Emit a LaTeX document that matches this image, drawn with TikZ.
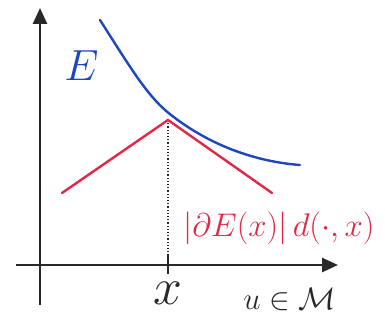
\documentclass[tikz,border=0pt]{standalone}
\usetikzlibrary{arrows.meta}
\definecolor{penblue}{RGB}{30,70,190}
\definecolor{penred}{RGB}{225,40,70}
\definecolor{penblack}{RGB}{40,40,40}
\begin{document}
\begin{tikzpicture}[x=1pt,y=-1pt,
  axis/.style={penblack,line width=2.6pt,-{Triangle[length=16pt,width=14pt]}},
  curve/.style={line width=2.4pt,line cap=round},
  lbl/.style={inner sep=0pt,anchor=west,font=\fontsize{20}{20}\selectfont}]
\clip (0,0) rectangle (385,328);
\fill[white] (0,0) rectangle (385,328);
% axes
\coordinate (ybot) at (40,305);
\coordinate (ytop) at (40,8);
\coordinate (xleft) at (16,265);
\coordinate (xright) at (338,265);
\draw[axis] (ybot) -- (ytop);
\draw[axis] (xleft) -- (xright);
% tick and dotted line
\coordinate (xt) at (168,265);
\coordinate (peak) at (168,120);
\draw[penblack,line width=2.4pt] (168,256) -- (168,274);
\draw[penblack,line width=1.2pt,dotted] (peak) -- (xt);
% blue curve
\draw[penblue,curve] (100,20) .. controls (135,75) and (150,100) .. (175,118)
   .. controls (215,148) and (260,162) .. (300,165);
% red lines
\coordinate (rl) at (62,193);
\coordinate (rr) at (272,193);
\draw[penred,curve] (rl) -- (peak) -- (rr);
% labels
\node[lbl,text=penblue,scale=2.1] (E) at (64,66) {$E$};
\node[lbl,text=penred,scale=1.58] (R) at (183,228) {$|\partial E(x)|\,d(\cdot,x)$};
\node[lbl,anchor=center,text=penblack,scale=2.5] (X) at (168,293) {$x$};
\node[lbl,text=penblack,scale=1.5] (U) at (243,299) {$u\in\mathcal{M}$};
\end{tikzpicture}
\end{document}
